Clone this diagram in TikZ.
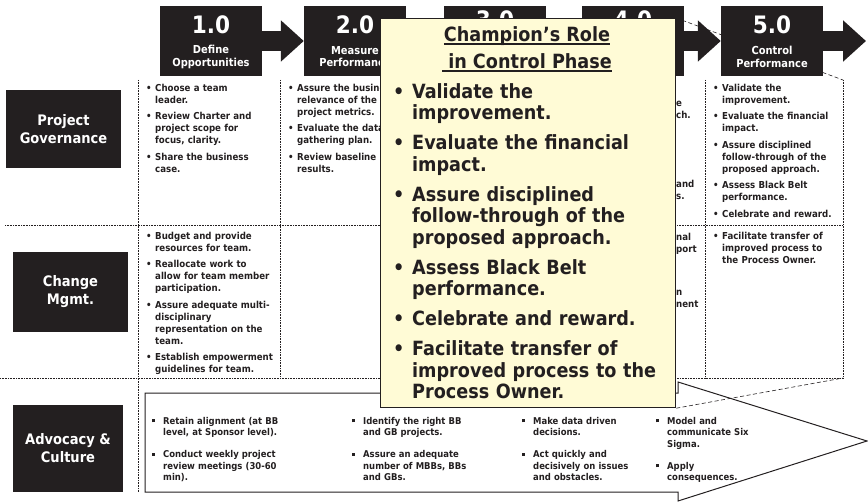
\documentclass[tikz,border=0pt]{standalone}
\usepackage{fontspec}
\setmainfont{DejaVu Sans Condensed Bold}
\usetikzlibrary{calc,arrows.meta,backgrounds,positioning}
\definecolor{KInk}{HTML}{231F20}
\definecolor{YCream}{HTML}{FFFBD6}
\tikzset{
    hbox/.style = {fill=KInk, minimum width=102, minimum height=70, inner sep=0},
    hnum/.style = {text=white, inner sep=0, font=\fontsize{24}{24}\selectfont},
    hsub/.style = {text=white, inner sep=0, align=center, font=\fontsize{11}{12.5}\selectfont},
    flow/.style = {draw=KInk, line width=20pt, -{Triangle[width=40pt,length=23pt]}},
    rowbox/.style = {fill=KInk, text=white, align=center, font=\fontsize{14.5}{18}\selectfont},
    cell/.style = {anchor=north west, inner sep=0, text width=140, align=left, text=KInk,
        font=\fontsize{9.6}{12}\selectfont},
    frag/.style = {anchor=north west, inner sep=0, align=left, text=KInk, font=\fontsize{9.6}{12}\selectfont},
    adv/.style = {cell, text width=190, font=\fontsize{9.4}{11.5}\selectfont},
    tabline/.style = {KInk, line width=0.6pt, densely dotted},
    zoomline/.style = {KInk, line width=0.6pt, dash pattern=on 4pt off 2.5pt},
    bigarrow/.style = {draw=KInk, line width=1pt, line join=miter},
    callbox/.style = {draw=KInk, fill=YCream, line width=1.2pt, anchor=north west, inner sep=0},
    ctitle/.style = {anchor=north, inner sep=0, align=center, text=KInk, font=\fontsize{19.6}{27}\selectfont},
    cbody/.style = {anchor=north west, inner sep=0, text width=280, align=left, text=KInk,
        font=\fontsize{19.6}{21.5}\selectfont}
}
\newcommand{\dotitem}[1]{\hangindent=9pt\hangafter=1\noindent\hbox to 9pt{\textbullet\hfil}#1\par\vspace{4.5pt}}
\newcommand{\sqitem}[1]{\hangindent=11pt\hangafter=1\noindent\hbox to 11pt{\rule[2pt]{3.2pt}{3.2pt}\hfil}#1\par\vspace{10.5pt}}
\newcommand{\bigitem}[1]{\hangindent=19pt\hangafter=1\noindent\hbox to 19pt{\textbullet\hfil}#1\par\vspace{8.5pt}}
\newcommand{\thul}[1]{\setbox0=\hbox{#1}\rlap{\rule[-4pt]{\wd0}{1.8pt}}\box0}

\begin{document}
\begin{tikzpicture}[x=1pt,y=-1pt]
    \useasboundingbox (0,0) rectangle (868,503);
    % table lines
    \draw[tabline] (5,225) -- (843,225);
    \draw[tabline] (0,378) -- (843,378);
    \foreach \cx in {280,705,843} { \draw[tabline] (\cx,80) -- (\cx,378); }
    \draw[tabline] (138,80) -- (138,492);
    \coordinate (zNE) at (843,80);
    \coordinate (zSE) at (843,378);

    % phase headers
    \foreach \n/\cx/\dy in {1/211/19,2/355/19,3/495/14,4/633/14,5/772/19} {
        \node[hbox] (h\n) at (\cx,41) {};
        \node[hnum] (n\n) at ($(h\n.north)+(0,\dy)$) {\n.0};
    }
    \node[hsub] (s1) at ($(h1.north)+(0,51)$) {Define\\Opportunities};
    \node[hsub] (s2) at ($(h2.north)+(0,51)$) {Measure\\Performance};
    \node[hsub] (s5) at ($(h5.north)+(0,51)$) {Control\\Performance};
    \foreach \a/\b in {h1/h2,h2/h3,h3/h4,h4/h5} { \draw[flow] (\a) -- (\b); }
    \coordinate (hend) at (866,41);
    \draw[flow] (h5) -- (hend);

    % row labels
    \node[rowbox, minimum width=115, minimum height=78] (pg) at (63.5,129) {Project\\Governance};
    \node[rowbox, minimum width=115, minimum height=80] (cm) at (70.5,292) {Change\\Mgmt.};
    \node[rowbox, minimum width=110, minimum height=87] (ac) at (68,448.5) {Advocacy \&\\Culture};

    % cells
    \node[cell] (g1) at (146,84) {\dotitem{Choose a team\newline leader.}\dotitem{Review Charter and\newline project scope for\newline focus, clarity.}\dotitem{Share the business\newline case.}};
    \node[cell] (g2) at (288,84) {\dotitem{Assure the business\newline relevance of the\newline project metrics.}\dotitem{Evaluate the data\newline gathering plan.}\dotitem{Review baseline\newline results.}};
    \node[cell] (g5) at (713,84) {\dotitem{Validate the\newline improvement.}\dotitem{Evaluate the financial\newline impact.}\dotitem{Assure disciplined\newline follow-through of the\newline proposed approach.}\dotitem{Assess Black Belt\newline performance.}\dotitem{Celebrate and reward.}};
    \node[cell] (c1) at (146,232) {\dotitem{Budget and provide\newline resources for team.}\dotitem{Reallocate work to\newline allow for team member\newline participation.}\dotitem{Assure adequate multi-\newline disciplinary\newline representation on the\newline team.}\dotitem{Establish empowerment\newline guidelines for team.}};
    \node[cell] (c5) at (713,232) {\dotitem{Facilitate transfer of\newline improved process to\newline the Process Owner.}};
    \node[frag] (f1) at (676,101) {e\\ch.};
    \node[frag] (f2) at (676,180) {and\\s.};
    \node[frag] (f3) at (676,233) {nal\\port};
    \node[frag] (f4) at (676,290) {n\\nent};

    % advocacy arrow
    \draw[bigarrow] (145,393) -- (678,393) -- (678,382) -- (867,441) -- (678,501) -- (678,492) -- (145,492) -- cycle;
    \node[adv] (a1) at (152,417) {\sqitem{Retain alignment (at BB\newline level, at Sponsor level).}\sqitem{Conduct weekly project\newline review meetings (30-60\newline min).}};
    \node[adv] (a2) at (352,417) {\sqitem{Identify the right BB\newline and GB projects.}\sqitem{Assure an adequate\newline number of MBBs, BBs\newline and GBs.}};
    \node[adv] (a3) at (522,417) {\sqitem{Make data driven\newline decisions.}\sqitem{Act quickly and\newline decisively on issues\newline and obstacles.}};
    \node[adv] (a4) at (656,417) {\sqitem{Model and\newline communicate Six\newline Sigma.}\sqitem{Apply\newline consequences.}};

    % champion callout
    \node[callbox, minimum width=295, minimum height=389] (cr) at (380,18) {};
    \node[ctitle] (ct) at (527,26) {\thul{Champion’s Role}\\\thul{\ in Control Phase}};
    \node[cbody] (cb) at (393,83) {\bigitem{Validate the\newline improvement.}\bigitem{Evaluate the financial\newline impact.}\bigitem{Assure disciplined\newline follow-through of the\newline proposed approach.}\bigitem{Assess Black Belt\newline performance.}\bigitem{Celebrate and reward.}\bigitem{Facilitate transfer of\newline improved process to the\newline Process Owner.}};
    \begin{scope}[on background layer]
        \draw[zoomline] (cr.north east) -- (zNE);
        \draw[zoomline] (cr.south east) -- (zSE);
    \end{scope}
\end{tikzpicture}
\end{document}
